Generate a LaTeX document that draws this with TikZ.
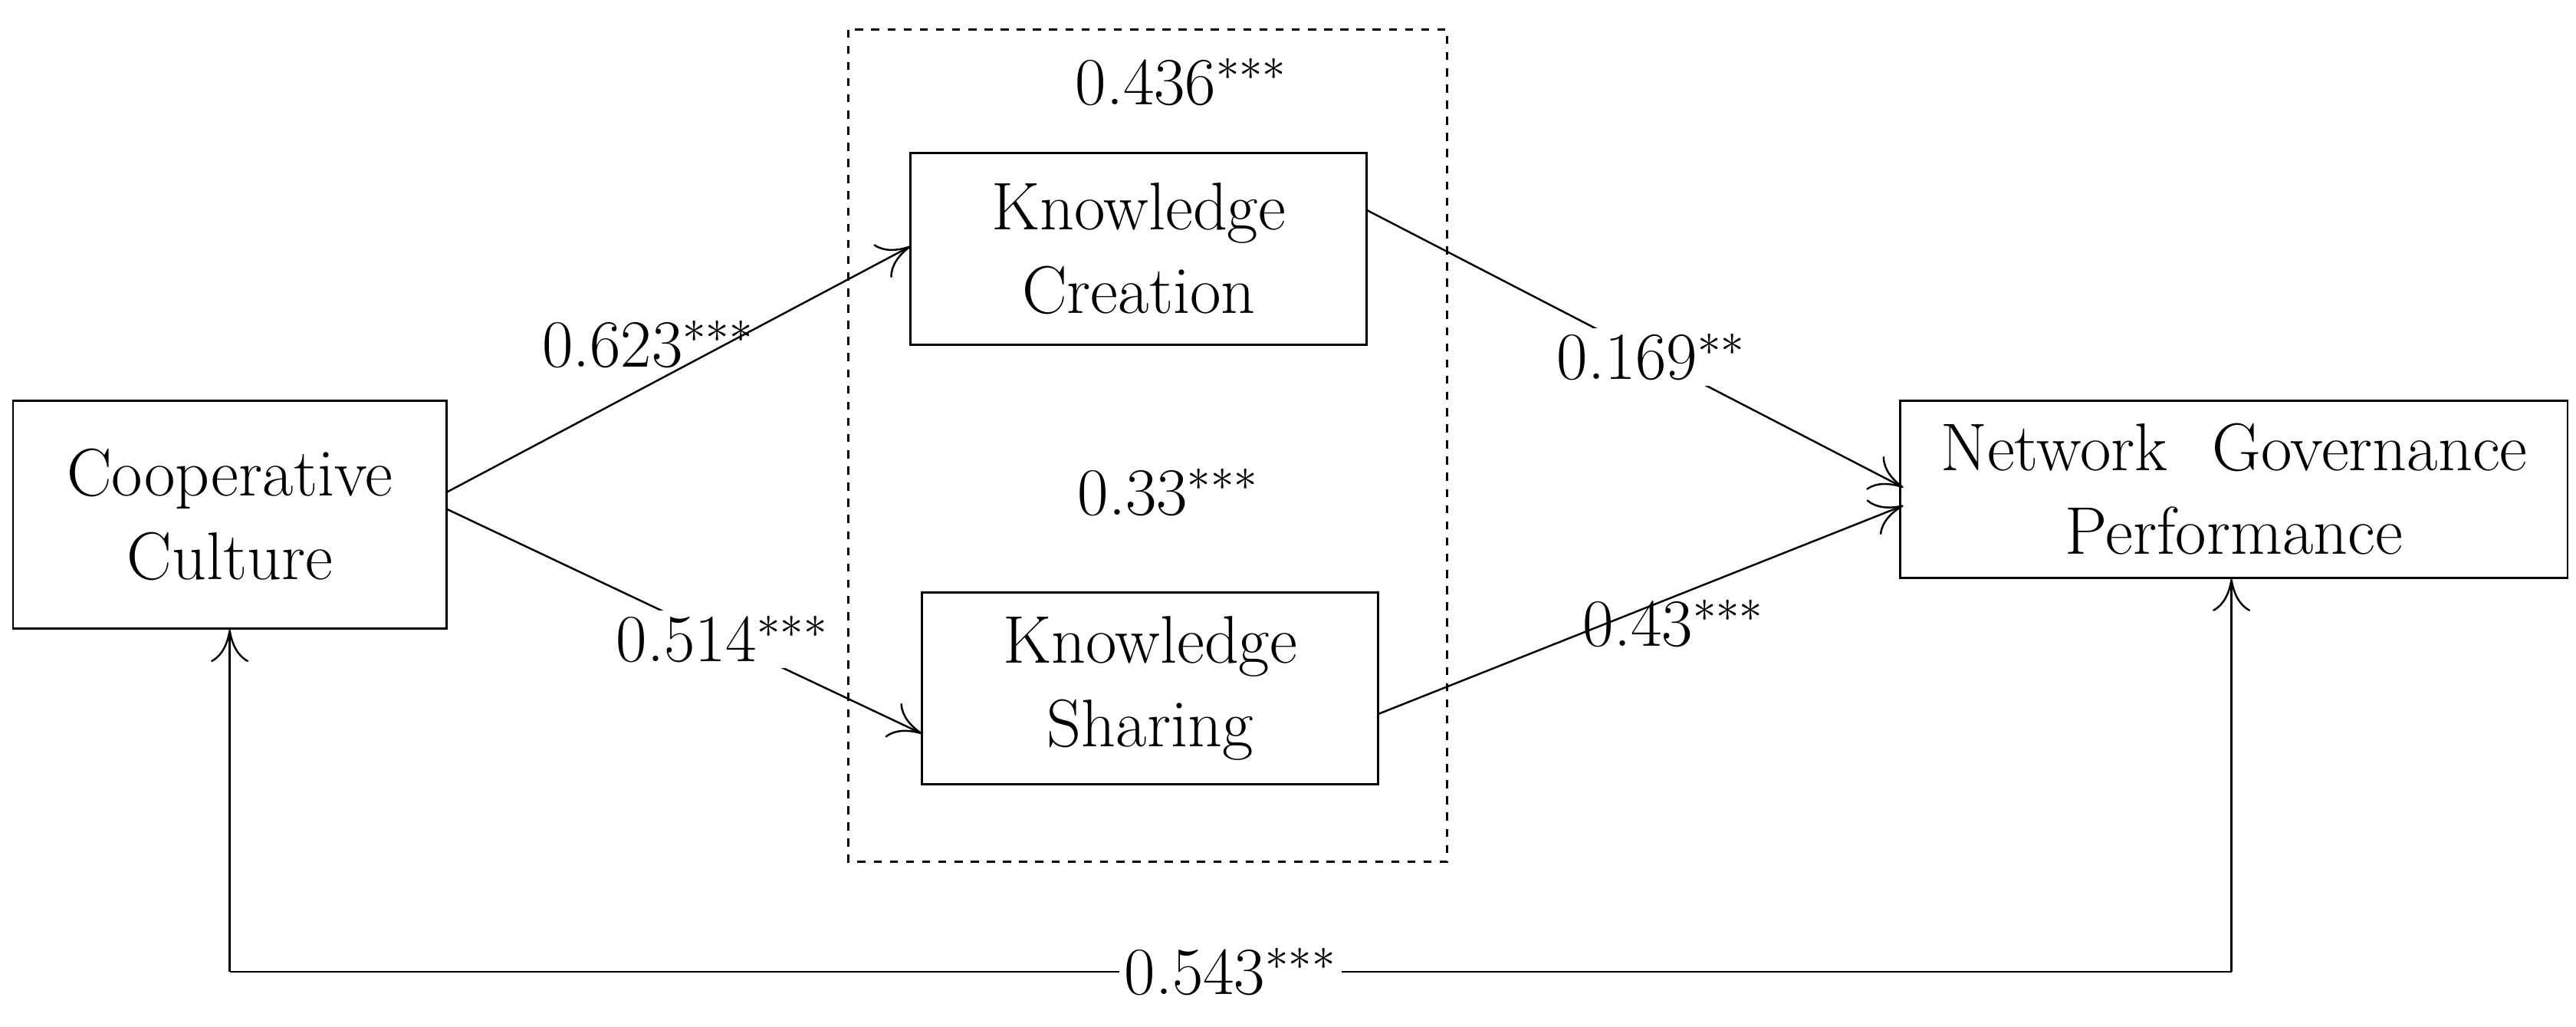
\documentclass[tikz,border=0pt]{standalone}
\usetikzlibrary{arrows.meta}
\begin{document}
\begin{tikzpicture}[x=0.0214cm,y=-0.0214cm,
  box/.style={draw,line width=0.8pt,align=center,font=\fontsize{25}{31}\selectfont,inner sep=0pt},
  lab/.style={fill=white,inner sep=2pt,font=\fontsize{25}{30}\selectfont},
  conn/.style={line width=0.7pt,-{To[length=12pt,width=14pt]}}]
\useasboundingbox (0,0) rectangle (1570,625.6);
\draw[dashed,line width=0.7pt] (517,18) rectangle (882,525);
\node[box,text width=5.65cm,minimum height=2.97cm] (cc) at (140,313.5) {Cooperative\\Culture};
\node[box,text width=5.95cm,minimum height=2.5cm] (kc) at (694,151.5) {Knowledge\\Creation};
\node[box,text width=5.95cm,minimum height=2.5cm] (ks) at (701,419.5) {Knowledge\\Sharing};
\node[box,text width=8.7cm,minimum height=2.31cm] (ngp) at (1361.5,298) {Network\ \ Governance\\Performance};
\node[lab] (l1) at (720,50) {0.436$^{***}$};
\node[lab] (l2) at (712,300) {0.33$^{***}$};
\node[lab,fill=none] (l3) at (395,210) {0.623$^{***}$};
\node[lab,fill=none] (l4) at (1020,380) {0.43$^{***}$};
\coordinate (c1) at (272,300);
\coordinate (c2) at (272,310);
\coordinate (k1) at (555,150);
\coordinate (k2) at (562,447);
\coordinate (kc1) at (833,128);
\coordinate (ks1) at (840,435);
\coordinate (n1) at (1160,297);
\coordinate (n2) at (1160,308);
\draw[conn] (c1) -- (k1);
\draw[conn] (c2) -- node[lab,pos=0.58] {0.514$^{***}$} (k2);
\draw[conn] (kc1) -- node[lab,pos=0.53] {0.169$^{**}$} (n1);
\draw[conn] (ks1) -- (n2);
\coordinate (b1) at (140,592);
\coordinate (b2) at (1360,592);
\draw[line width=0.7pt] (b1) -- node[lab] {0.543$^{***}$} (b2);
\draw[conn] (b1) -- (cc.south-|b1);
\draw[conn] (b2) -- (ngp.south-|b2);
\end{tikzpicture}
\end{document}
